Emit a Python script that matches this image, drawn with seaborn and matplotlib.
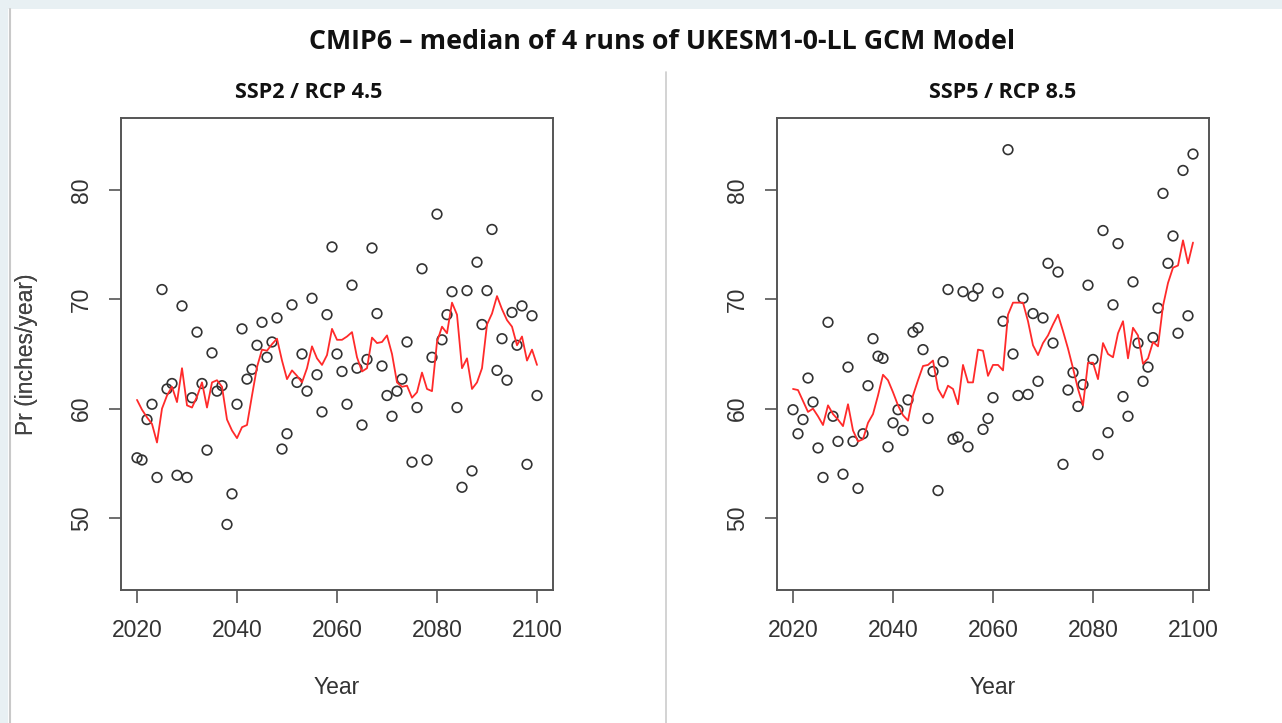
import numpy as np
import pandas as pd
import matplotlib.pyplot as plt
import matplotlib.patches as mpatches
import matplotlib.lines as mlines
import seaborn as sns

# annual precipitation, inches/year
years = list(range(2020, 2101))

ssp245_pr = [55.5, 55.3, 59.0, 60.4, 53.7, 70.9, 61.8, 62.3, 53.9, 69.4,
             53.7, 61.0, 67.0, 62.3, 56.2, 65.1, 61.6, 62.1, 49.4, 52.2,
             60.4, 67.3, 62.7, 63.6, 65.8, 67.9, 64.7, 66.1, 68.3, 56.3,
             57.7, 69.5, 62.4, 65.0, 61.6, 70.1, 63.1, 59.7, 68.6, 74.8,
             65.0, 63.4, 60.4, 71.3, 63.7, 58.5, 64.5, 74.7, 68.7, 63.9,
             61.2, 59.3, 61.6, 62.7, 66.1, 55.1, 60.1, 72.8, 55.3, 64.7,
             77.8, 66.3, 68.6, 70.7, 60.1, 52.8, 70.8, 54.3, 73.4, 67.7,
             70.8, 76.4, 63.5, 66.4, 62.6, 68.8, 65.8, 69.4, 54.9, 68.5,
             61.2]

ssp245_smooth = [60.8, 59.9, 59.2, 58.6, 56.9, 60.0, 61.2, 62.0, 60.6, 63.7,
                 60.3, 60.1, 61.1, 62.4, 60.1, 62.4, 62.6, 62.0, 59.0, 58.0,
                 57.3, 58.3, 58.5, 61.2, 63.8, 65.4, 65.3, 65.9, 66.4, 64.4,
                 62.7, 63.5, 63.0, 62.4, 63.7, 65.7, 64.6, 64.0, 64.9, 67.3,
                 66.3, 66.3, 66.6, 67.0, 64.7, 63.4, 63.7, 66.5, 66.0, 66.1,
                 66.7, 65.0, 62.4, 62.0, 62.1, 61.0, 61.5, 63.3, 61.8, 61.6,
                 66.1, 67.5, 66.9, 69.7, 68.6, 63.7, 64.6, 61.8, 62.4, 63.7,
                 67.7, 68.7, 70.3, 69.1, 68.1, 67.5, 65.8, 66.6, 64.4, 65.4,
                 64.0]

ssp585_pr = [59.9, 57.7, 59.0, 62.8, 60.6, 56.4, 53.7, 67.9, 59.3, 57.0,
             54.0, 63.8, 57.0, 52.7, 57.7, 62.1, 66.4, 64.8, 64.6, 56.5,
             58.7, 59.9, 58.0, 60.8, 67.0, 67.4, 65.4, 59.1, 63.4, 52.5,
             64.3, 70.9, 57.2, 57.4, 70.7, 56.5, 70.3, 71.0, 58.1, 59.1,
             61.0, 70.6, 68.0, 83.7, 65.0, 61.2, 70.1, 61.3, 68.7, 62.5,
             68.3, 73.3, 66.0, 72.5, 54.9, 61.7, 63.3, 60.2, 62.2, 71.3,
             64.5, 55.8, 76.3, 57.8, 69.5, 75.1, 61.1, 59.3, 71.6, 66.0,
             62.5, 63.8, 66.5, 69.2, 79.7, 73.3, 75.8, 66.9, 81.8, 68.5,
             83.3]

ssp585_smooth = [61.8, 61.7, 60.7, 59.7, 60.0, 59.3, 58.5, 60.3, 59.5, 59.0,
                 58.4, 60.4, 58.0, 57.0, 57.2, 58.7, 59.5, 61.2, 63.1, 62.6,
                 61.5, 60.3, 59.4, 58.9, 61.2, 62.6, 63.9, 64.0, 64.4, 61.8,
                 61.0, 62.1, 61.8, 60.4, 64.0, 62.4, 62.4, 65.4, 65.3, 63.0,
                 64.0, 64.0, 63.5, 68.6, 69.7, 69.7, 69.7, 68.0, 65.8, 64.9,
                 66.0, 66.7, 67.7, 68.6, 67.1, 65.5, 63.7, 61.8, 60.3, 64.2,
                 64.2, 62.7, 66.0, 65.0, 64.7, 66.9, 68.0, 64.6, 67.4, 66.7,
                 64.1, 64.6, 66.1, 65.7, 69.4, 71.5, 72.9, 73.1, 75.4, 73.3,
                 75.2]

panel_titles = ["SSP2 / RCP 4.5", "SSP5 / RCP 8.5"]
main_title = "CMIP6 \u2013 median of 4 runs of UKESM1-0-LL GCM Model"
x_ticks = [2020, 2040, 2060, 2080, 2100]
y_ticks = [50, 60, 70, 80]

sns.set_style("white")
plt.rcParams['font.family'] = ['Liberation Sans', 'DejaVu Sans']

W, H = 1282, 723
fig = plt.figure(figsize=(W / 100, H / 100), dpi=100)
fig.patch.set_facecolor("white")

# screenshot frame: light band on top and left, thin grey edge, divider
bg = "#e8f0f3"
fig.patches.append(mpatches.Rectangle((0, 1 - 9 / H), 1, 9 / H, transform=fig.transFigure,
                                      facecolor=bg, edgecolor="none", zorder=0))
fig.patches.append(mpatches.Rectangle((0, 0), 8 / W, 1, transform=fig.transFigure,
                                      facecolor=bg, edgecolor="none", zorder=0))
fig.lines.append(mlines.Line2D([9.5 / W, 9.5 / W], [0, 1 - 9 / H], transform=fig.transFigure,
                               color="#c9c9c9", lw=1.5))
fig.lines.append(mlines.Line2D([666 / W, 666 / W], [0, 1 - 72 / H], transform=fig.transFigure,
                               color="#cccccc", lw=1.2))


def px_axes(x0, y0, x1, y1):
    return fig.add_axes([x0 / W, 1 - y1 / H, (x1 - x0) / W, (y1 - y0) / H])


panels = [(ssp245_pr, ssp245_smooth, 121, 553, 309),
          (ssp585_pr, ssp585_smooth, 777, 1209, 1003)]

for i, (pr, smooth, x0, x1, tx) in enumerate(panels):
    ax = px_axes(x0, 118, x1, 590)
    df = pd.DataFrame({"year": years, "pr": pr, "smooth": smooth})

    sns.scatterplot(data=df, x="year", y="pr", marker="o", s=48,
                    facecolor="none", edgecolor="#333333", linewidth=1.2, ax=ax)
    sns.lineplot(data=df, x="year", y="smooth", color="#ff2a2a", linewidth=1.3, ax=ax)

    ax.set_xlim(2016.8, 2103.2)
    ax.set_ylim(43.4, 86.6)
    ax.set_xticks(x_ticks)
    ax.set_yticks(y_ticks)
    for s in ax.spines.values():
        s.set_visible(True)
        s.set_color("#555555")
        s.set_linewidth(1.4)
    ax.tick_params(axis="both", length=9, width=1.2, color="#555555",
                   labelsize=16.5, labelcolor="#333333", bottom=True, left=True)
    ax.tick_params(axis="x", pad=12)
    ax.tick_params(axis="y", pad=11)
    plt.setp(ax.get_yticklabels(), rotation=90, va="center")

    ax.set_xlabel("Year", fontsize=16.5, color="#333333")
    ax.set_ylabel("Pr (inches/year)", fontsize=16.5, color="#444444")
    ax.xaxis.set_label_coords(0.5, (590 - 687) / 472)
    ax.yaxis.set_label_coords((27 - x0) / (x1 - x0), 0.5)
    ax.xaxis.label.set_va("center")
    ax.yaxis.label.set_va("center")

    fig.text(tx / W, 1 - 92 / H, panel_titles[i], ha="center", va="center",
             fontsize=15.5, fontweight="bold", family=["Open Sans", "DejaVu Sans"], color="#111111")

fig.text(662 / W, 1 - 42 / H, main_title, ha="center", va="center",
         fontsize=19.3, fontweight="bold", family=["Open Sans", "DejaVu Sans"], color="#111111")

fig.savefig("out.png", dpi=100)
